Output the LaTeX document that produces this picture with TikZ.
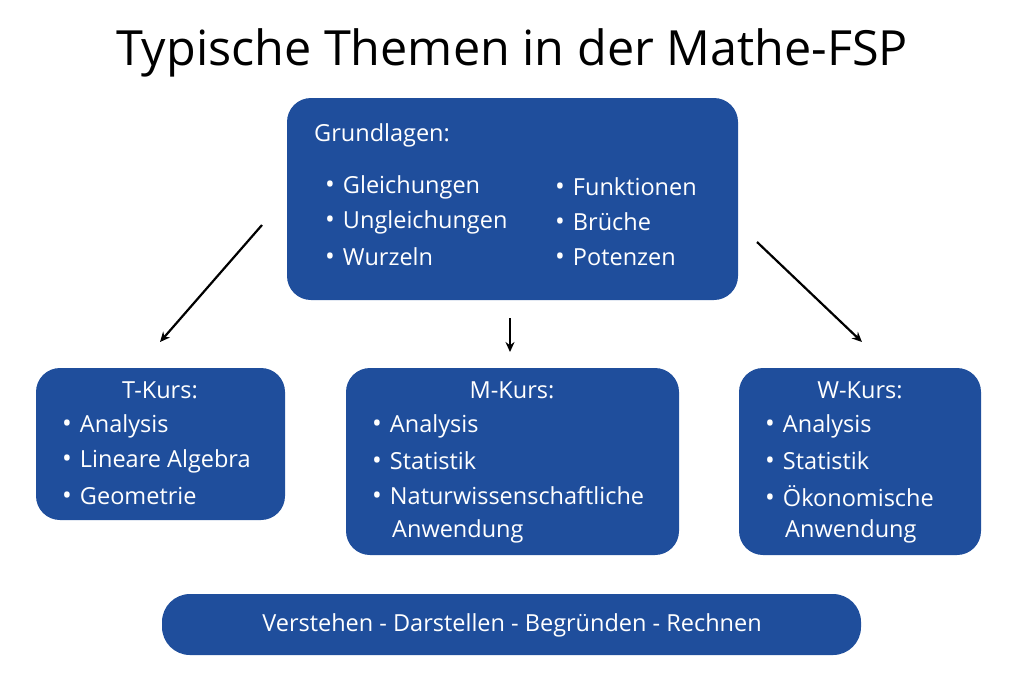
\documentclass[tikz,border=0pt]{standalone}
\usepackage{fontspec}
\setmainfont{Open Sans}
\usetikzlibrary{arrows.meta}
\definecolor{boxblue}{HTML}{1F4E9C}
\newcommand{\bul}{{\fontsize{26}{25}\selectfont•}\hspace{8pt}}
\begin{document}
\begin{tikzpicture}[x=1pt,y=-1pt,
  box/.style={fill=boxblue,rounded corners=24pt,draw=none},
  txt/.style={text=white,anchor=west,inner sep=0pt,font=\fontsize{23.5}{25}\selectfont},
  ctxt/.style={text=white,inner sep=0pt,font=\fontsize{23.5}{25}\selectfont},
  arr/.style={-{Stealth[length=10pt,width=9pt]},line width=2.2pt}]
\useasboundingbox (0,0) rectangle (1024,683);
\node[font=\fontsize{48.5}{52}\selectfont] (title) at (512,53) {Typische Themen in der Mathe-FSP};
\draw[box] (287,98) rectangle (738,300);
\draw[box] (36,368) rectangle (285,520);
\draw[box] (346,368) rectangle (679,555);
\draw[box] (739,368) rectangle (981,555);
\draw[box,rounded corners=28pt] (162,594) rectangle (861,655);
\node[txt] (g) at (314,135) {Grundlagen:};
\foreach \t/\y [count=\i] in {Gleichungen/187,Ungleichungen/222,Wurzeln/257}{
  \node[txt] (ga\i) at (325,\y) {\bul\t};}
\foreach \t/\y [count=\i] in {Funktionen/187,Brüche/222,Potenzen/257}{
  \node[txt] (gb\i) at (555,\y) {\bul\t};}
\node[ctxt] (tk) at (160,390) {T-Kurs:};
\foreach \t/\y [count=\i] in {Analysis/426,Lineare Algebra/461,Geometrie/496}{
  \node[txt] (t\i) at (62,\y) {\bul\t};}
\node[ctxt] (mk) at (512,390) {M-Kurs:};
\foreach \t/\y [count=\i] in {Analysis/426,Statistik/461,Naturwissenschaftliche/496}{
  \node[txt] (m\i) at (372,\y) {\bul\t};}
\node[txt] (m4) at (392,531) {Anwendung};
\node[ctxt] (wk) at (860,390) {W-Kurs:};
\foreach \t/\y [count=\i] in {Analysis/426,Statistik/461,Ökonomische/496}{
  \node[txt] (w\i) at (765,\y) {\bul\t};}
\node[txt] (w4) at (785,531) {Anwendung};
\node[ctxt] (bottom) at (512,625) {Verstehen - Darstellen - Begründen - Rechnen};
\coordinate (a1) at (262,225); \coordinate (b1) at (160,342);
\coordinate (a2) at (510,318); \coordinate (b2) at (510,352);
\coordinate (a3) at (757,242); \coordinate (b3) at (862,342);
\draw[arr] (a1) -- (b1);
\draw[arr] (a2) -- (b2);
\draw[arr] (a3) -- (b3);
\end{tikzpicture}
\end{document}
